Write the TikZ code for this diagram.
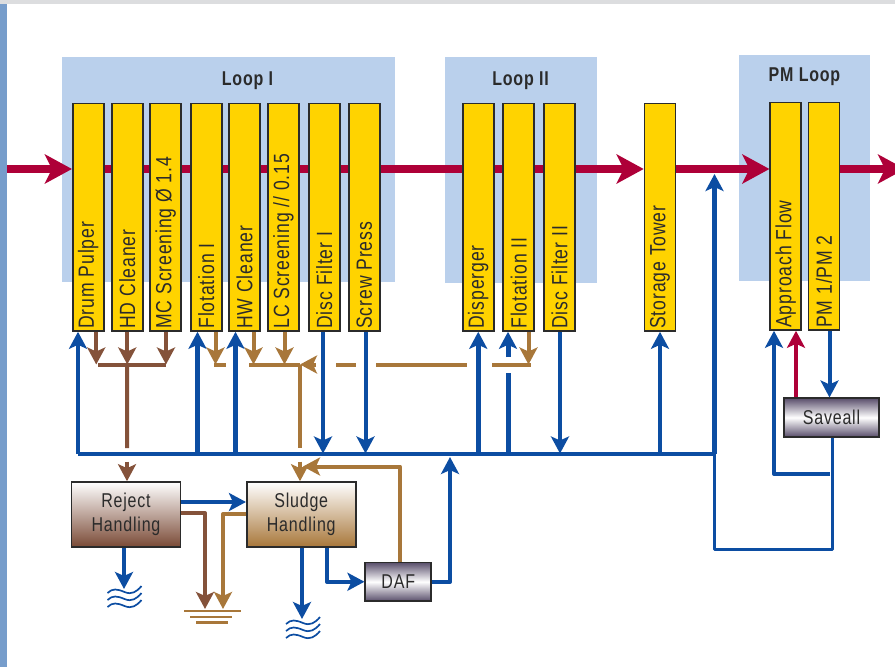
\documentclass[tikz,border=0pt]{standalone}
\usepackage{fontspec}
\setmainfont[FakeStretch=0.8,LetterSpace=4]{Liberation Sans}
\usetikzlibrary{arrows.meta,backgrounds}
\definecolor{loopblue}{HTML}{BAD0EC}
\definecolor{sidebar}{HTML}{779DCB}
\definecolor{topbar}{HTML}{DCDDDF}
\definecolor{stockred}{HTML}{AE0038}
\definecolor{waterblue}{HTML}{0C4DA2}
\definecolor{rejectbrown}{HTML}{7A4A36}
\definecolor{pipebrown}{HTML}{84523A}
\definecolor{sludgetan}{HTML}{A8773A}
\definecolor{unityellow}{HTML}{FFD300}
\definecolor{inkgray}{HTML}{2B2B2B}
\definecolor{dusk}{HTML}{5A4F6C}

\begin{document}
\begin{tikzpicture}[x=1pt, y=-1pt,
	every node/.style={font=\fontsize{20}{23}\selectfont, text=inkgray},
	unitbox/.style={draw=inkgray, line width=1.6pt, fill=unityellow, minimum width=31pt, minimum height=227.5pt, inner sep=0pt},
	unitlabel/.style={font=\fontsize{22}{24}\selectfont, rotate=90, anchor=west, inner sep=0pt},
	looptitle/.style={font=\fontsize{20}{23}\selectfont\bfseries, inner sep=0pt},
	handling/.style={draw=inkgray, line width=1.6pt, minimum width=109pt, minimum height=65pt, inner sep=0pt, align=center, top color=white, bottom color=#1},
	banded/.style={draw=inkgray, line width=1.6pt, minimum height=38.5pt, inner sep=0pt, top color=dusk, bottom color=dusk, middle color=white},
	stock/.style={draw=stockred, line width=8pt, -{Stealth[length=27pt, width=29pt, inset=7pt]}},
	stockthin/.style={draw=stockred, line width=4.5pt, -{Stealth[length=17pt, width=18pt, inset=4pt]}},
	water/.style={draw=waterblue, line width=#1, line join=round, -{Stealth[length=17pt, width=18pt, inset=4pt]}},
	water/.default=4pt,
	wateronly/.style={draw=waterblue, line width=#1, line join=round},
	wateronly/.default=4pt,
	reject/.style={draw=pipebrown, line width=4pt, line join=round, -{Stealth[length=17pt, width=18pt, inset=4pt]}},
	rejectonly/.style={draw=pipebrown, line width=4pt, line join=round},
	sludge/.style={draw=sludgetan, line width=4pt, line join=round, -{Stealth[length=17pt, width=18pt, inset=4pt]}},
	sludgeonly/.style={draw=sludgetan, line width=4pt, line join=round},
	earth/.style={draw=sludgetan, line width=2.8pt},
	wave/.style={draw=waterblue, line width=1.7pt}]
	\clip (0,0) rectangle (895,667);
	\fill[topbar] (0,0) rectangle (895,4);
	\fill[sidebar] (0,4) rectangle (7,667);

	\foreach \n/\x/\y/\t in {drum/88.25/217.25/{Drum Pulper}, hd/127.25/217.25/{HD Cleaner}, mc/165.75/217.25/{MC Screening Ø 1.4}, flotA/206.25/217.25/{Flotation I}, hw/244.5/217.25/{HW Cleaner}, lc/283.5/217.25/{LC Screening // 0.15}, discA/324.25/217.25/{Disc Filter I}, screw/364.25/217.25/{Screw Press}, disp/478.25/217.25/{Disperger}, flotB/518.75/217.25/{Flotation II}, discB/559.5/217.25/{Disc Filter II}, tower/660/217.25/{Storage Tower}, approach/785.75/216.25/{Approach Flow}, pm/824/216.25/{PM 1/PM 2}} {
		\node[unitbox] (\n) at (\x,\y) {};
		\node[unitlabel] (\n label) at ([yshift=3pt]\n.south) {\t};
	}

	\node[looptitle] (loopA) at (247.5,80.5) {Loop I};
	\node[looptitle] (loopB) at (520.5,80.5) {Loop II};
	\node[looptitle] (loopC) at (804.5,76.5) {PM Loop};

	\node[handling=rejectbrown] (rejecth) at (126,514.5) {Reject\\[1pt]Handling};
	\node[handling=sludgetan] (sludgeh) at (301.25,514.5) {Sludge\\[1pt]Handling};
	\node[banded, minimum width=66pt] (daf) at (398.25,581.75) {DAF};
	\node[banded, minimum width=95.5pt] (saveall) at (831.5,417.5) {Saveall};

	\coordinate (feed) at (7,169);
	\coordinate (bus) at (78,453.5);
	\coordinate (busend) at (714.5,453.5);
	\coordinate (rail) at (0,364.5);
	\coordinate (tee) at (300,364.5);
	\coordinate (reject stub) at (127,461.5);
	\coordinate (sludge stub) at (300,461.5);
	\coordinate (cut a) at (127,448);
	\coordinate (cut b) at (300,448);
	\coordinate (gap a) at (508,357);
	\coordinate (gap b) at (508,373);
	\coordinate (drain a) at (124,589);
	\coordinate (drain b) at (302,619);
	\coordinate (out) at (905,169);
	\coordinate (turn) at (714.5,549.5);
	\coordinate (turn b) at (832,549.5);
	\coordinate (branch) at (774,474);
	\coordinate (branch end) at (830,474);

	\begin{scope}[on background layer]
		\fill[loopblue] (62,57) rectangle (395,282);
		\fill[loopblue] (445,57) rectangle (597,283);
		\fill[loopblue] (739,55) rectangle (870,281);
		\draw[stock] (feed) -- (feed -| drum.west);
		\draw[stock] (feed -| drum.east) -- (feed -| tower.west);
		\draw[stock] (feed -| tower.east) -- (feed -| approach.west);
		\draw[stock] (feed -| pm.east) -- (out);
	\end{scope}

	\foreach \n/\dx in {flotA/-8.75, hw/-9, disp/0} {
		\draw[water=5pt] ([xshift=\dx]\n.south |- bus) -- ([xshift=\dx]\n.south);
	}
	\foreach \n/\dx in {discA/-1.25, screw/1.25, discB/0.5} {
		\draw[water] ([xshift=\dx]\n.south) -- ([xshift=\dx]\n.south |- bus);
	}
	\draw[water] (bus) -- (bus |- drum.south);
	\draw[water] (bus -| tower.south) -- (tower.south);
	\draw[wateronly=5pt] (gap b) -- (gap b |- bus);
	\draw[water=5pt] (gap a) -- (gap a |- flotB.south);
	\draw[wateronly] (bus) -- (busend);
	\draw[water=5pt] (busend) -- (714.5,174);

	\foreach \n/\dx in {drum/8, hd/0, mc/0.25} {
		\draw[reject] ([xshift=\dx]\n.south) -- ([xshift=\dx]\n.south |- rail);
	}
	\draw[rejectonly] (98,364.5) -- (166,364.5);
	\draw[rejectonly] (hd.south |- rail) -- (cut a);
	\draw[reject] (reject stub) -- (reject stub |- rejecth.north);

	\foreach \n/\dx in {flotA/9.25, hw/9, lc/1, flotB/9.75} {
		\draw[sludge] ([xshift=\dx]\n.south) -- ([xshift=\dx]\n.south |- rail);
	}
	\foreach \a/\b in {214/226, 249/300, 336/356, 376/467, 492/531} {
		\draw[sludgeonly] (\a,0 |- rail) -- (\b,0 |- rail);
	}
	\draw[sludge] (316,364.5) -- (tee);
	\draw[sludgeonly] (tee) -- (cut b);
	\draw[sludge] (sludge stub) -- (sludge stub |- sludgeh.north);
	\draw[sludge] (daf.north -| 400,0) |- (303,466.5);

	\draw[water] (rejecth.east |- 0,502) -- (sludgeh.west |- 0,502);
	\draw[water] (rejecth.south -| drain a) -- (drain a);
	\draw[water] (sludgeh.south -| drain b) -- (drain b);
	\draw[water] (sludgeh.south -| 327,0) |- (daf.west);
	\draw[water] (daf.east) -| (450,457);
	\draw[reject] (rejecth.east |- 0,513) -| (205,609);
	\draw[sludge] (sludgeh.west |- 0,514) -| (223,609);

	\draw[earth] (184,611) -- (241,611);
	\draw[earth] (190,617) -- (232,617);
	\draw[earth] (196,622.5) -- (228,622.5);
	\foreach \wx/\wy in {107.5/593, 286/624} {
		\begin{scope}[shift={(\wx,\wy)}]
			\foreach \dy in {0,7,14} {
				\draw[wave, yshift=-\dy] (0,0) .. controls (5,-5) and (10,-4) .. (17,-1) .. controls (24,2) and (29,-1) .. (34,-7);
			}
		\end{scope}
	}

	\draw[water] (pm.south -| 829.5,0) -- (saveall.north -| 829.5,0);
	\draw[stockthin] (saveall.north -| 796,0) -- (approach.south -| 796,0);
	\draw[water] (branch end) -- (branch) -- (branch |- approach.south);
	\draw[wateronly=3pt] (saveall.south -| turn b) -- (turn b) -- (turn) -- (busend);
\end{tikzpicture}
\end{document}
